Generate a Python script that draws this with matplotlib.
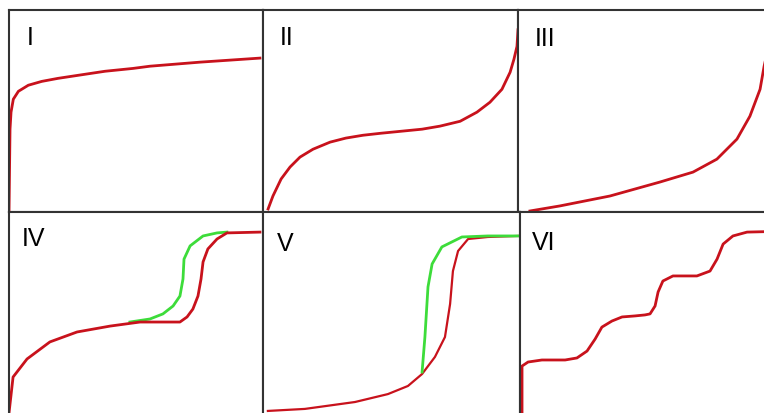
import numpy as np
import matplotlib.pyplot as plt

# curve points, in panel fractions (x, y)
type1_x = [0, 0.004, 0.008, 0.017, 0.037, 0.076, 0.129, 0.193, 0.272, 0.378, 0.488, 0.555, 0.752, 0.988]
type1_y = [0, 0.409, 0.493, 0.557, 0.596, 0.626, 0.645, 0.66, 0.675, 0.695, 0.709, 0.72, 0.74, 0.76]

type2_x = [0.02, 0.039, 0.071, 0.106, 0.145, 0.196, 0.263, 0.325, 0.392, 0.463, 0.624, 0.694, 0.773,
           0.839, 0.89, 0.937, 0.969, 0.984, 0.996, 1.0]
type2_y = [0.015, 0.079, 0.163, 0.222, 0.271, 0.31, 0.345, 0.365, 0.379, 0.389, 0.409, 0.424, 0.448,
           0.493, 0.542, 0.606, 0.69, 0.754, 0.818, 0.9]

type3_x = [0.047, 0.165, 0.362, 0.559, 0.689, 0.783, 0.862, 0.913, 0.953, 0.969, 0.992]
type3_y = [0.005, 0.03, 0.079, 0.148, 0.197, 0.261, 0.36, 0.473, 0.606, 0.72, 0.85]

type4_ads_x = [0, 0.004, 0.016, 0.071, 0.161, 0.268, 0.398, 0.516, 0.673, 0.701, 0.724, 0.744, 0.756,
               0.764, 0.783, 0.819, 0.858, 0.988]
type4_ads_y = [0.01, 0.054, 0.187, 0.276, 0.36, 0.409, 0.438, 0.458, 0.458, 0.483, 0.522, 0.586, 0.67,
               0.754, 0.818, 0.867, 0.897, 0.901]
type4_des_x = [0.476, 0.555, 0.606, 0.646, 0.673, 0.685, 0.689, 0.713, 0.764, 0.819, 0.858]
type4_des_y = [0.458, 0.473, 0.498, 0.537, 0.586, 0.67, 0.768, 0.833, 0.882, 0.897, 0.901]

type5_ads_x = [0.019, 0.163, 0.358, 0.486, 0.564, 0.619, 0.669, 0.708, 0.728, 0.739, 0.759, 0.798, 0.875, 0.992]
type5_ads_y = [0.02, 0.03, 0.064, 0.103, 0.143, 0.202, 0.286, 0.384, 0.547, 0.709, 0.808, 0.867, 0.877, 0.882]
type5_des_x = [0.619, 0.630, 0.642, 0.658, 0.696, 0.774, 0.875, 0.992]
type5_des_y = [0.212, 0.384, 0.631, 0.744, 0.828, 0.877, 0.882, 0.882]

type6_x = [0.008, 0.008, 0.008, 0.032, 0.087, 0.179, 0.226, 0.266, 0.298, 0.325, 0.365, 0.405, 0.456,
           0.496, 0.516, 0.536, 0.548, 0.567, 0.607, 0.702, 0.754, 0.782, 0.806, 0.845, 0.901, 0.968]
type6_y = [0.01, 0.177, 0.241, 0.261, 0.271, 0.271, 0.281, 0.315, 0.374, 0.433, 0.463, 0.483, 0.488,
           0.493, 0.498, 0.537, 0.606, 0.66, 0.685, 0.685, 0.709, 0.768, 0.842, 0.882, 0.901, 0.903]

labels = ['I', 'II', 'III', 'IV', 'V', 'VI']

W, H = 764, 414
red = '#c8121c'
green = '#3ddc3a'

fig = plt.figure(figsize=(W / 100, H / 100), dpi=100)
fig.patch.set_facecolor('white')


def panel(x0, y0, x1, y1):
    ax = fig.add_axes([x0 / W, 1 - y1 / H, (x1 - x0) / W, (y1 - y0) / H])
    ax.set_xlim(0, 1)
    ax.set_ylim(0, 1)
    ax.set_xticks([])
    ax.set_yticks([])
    for s in ax.spines.values():
        s.set_color('#333333')
        s.set_linewidth(1.5)
    return ax


boxes = [(9, 10.5, 263, 213), (263, 10.5, 518, 213), (518, 10.5, 772, 213),
         (9, 213, 263, 416), (263, 213, 520, 416), (520, 213, 772, 416)]
axes = [panel(*b) for b in boxes]

axes[0].plot(type1_x, type1_y, color=red, lw=2)
axes[1].plot(type2_x, type2_y, color=red, lw=2)
axes[2].plot(type3_x, type3_y, color=red, lw=2)
axes[3].plot(type4_des_x, type4_des_y, color=green, lw=2)
axes[3].plot(type4_ads_x, type4_ads_y, color=red, lw=2)
axes[4].plot(type5_ads_x, type5_ads_y, color=red, lw=1.6)
axes[4].plot(type5_des_x, type5_des_y, color=green, lw=2)
axes[5].plot(type6_x, type6_y, color=red, lw=2)

label_pos = [(27, 26), (280, 26), (535, 27), (22, 227), (277, 232), (532, 231)]
for lab, (lx, ly) in zip(labels, label_pos):
    fig.text(lx / W, 1 - ly / H, lab, ha='left', va='top', fontsize=18,
             family='Liberation Sans', color='black')

fig.savefig('out.png', dpi=100)
